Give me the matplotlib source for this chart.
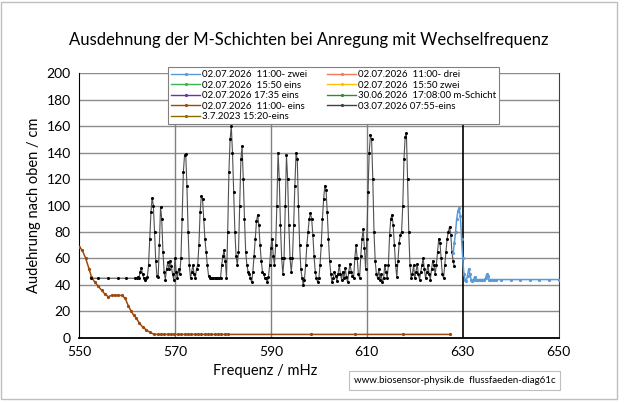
import numpy as np
import matplotlib
matplotlib.use("Agg")
import matplotlib.pyplot as plt
from matplotlib.patches import Rectangle

plt.rcParams['font.family'] = ['Lato', 'DejaVu Sans']

title = "Ausdehnung der M-Schichten bei Anregung mit Wechselfrequenz"
xlabel = "Frequenz / mHz"
ylabel = "Audehrung nach oben / cm"
source = "www.biosensor-physik.de  flussfaeden-diag61c"
xticks = [550, 570, 590, 610, 630, 650]
yticks = [0, 20, 40, 60, 80, 100, 120, 140, 160, 180, 200]

# 03.07.2026 07:55-eins (black) - sparse start
black_x0 = [552.6, 554.0, 556.0, 558.1, 559.9, 561.6]
black_y0 = [45, 45, 45, 45, 45, 45]
# dense part, step 0.25 mHz from 562.0
black_start = 562.0
black_step = 0.25
black_y = [
    45, 46, 45, 50,   53, 48, 45, 44,   45, 46, 55, 75,   95, 106, 100, 80,   # 562-565.75
    58, 47, 46, 70,   99, 90, 65, 50,   44, 52, 57, 52,   58, 54, 48, 44,     # 566-569.75
    60, 50, 45, 52,   48, 60, 90, 125,  138, 139, 115, 80, 55, 45, 50, 55,    # 570-573.75
    48, 45, 52, 55,   70, 95, 107, 105, 90, 75, 65, 55,   47, 45, 45, 45,     # 574-577.75
    45, 45, 45, 45,   45, 45, 45, 55,   62, 66, 58, 45,   80, 125, 150, 160,  # 578-581.75
    140, 110, 80, 62, 55, 65, 100, 135, 145, 120, 90, 65, 55, 50, 48, 45,     # 582-585.75
    42, 50, 62, 75,   88, 93, 85, 70,   58, 50, 48, 45,   45, 42, 46, 55,     # 586-589.75
    68, 75, 62, 55,   70, 100, 140, 120, 85, 60, 48, 60,  100, 138, 120, 85,  # 590-593.75
    60, 50, 60, 85,   115, 140, 135, 100, 70, 52, 45, 40, 44, 55, 70, 80,     # 594-597.75
    90, 94, 90, 78,   62, 50, 45, 42,   45, 55, 70, 90,   105, 115, 112, 95,  # 598-601.75
    75, 58, 48, 42,   45, 50, 47, 43,   48, 55, 48, 44,   50, 45, 53, 46,     # 602-605.75
    42, 50, 56, 50,   47, 45, 60, 70,   60, 48, 45, 62,   75, 82, 68, 52,     # 606-609.75
    75, 110, 140, 153, 150, 120, 80, 58, 48, 45, 52, 44,  48, 42, 45, 55,     # 610-613.75
    50, 45, 55, 78,   90, 93, 85, 70,   55, 46, 58, 72,   78, 80, 100, 135,   # 614-617.75
    152, 155, 120, 80, 55, 45, 48, 55,  45, 50, 56, 48,   44, 50, 55, 60,     # 618-621.75
    52, 45, 50, 55,   48, 44, 52, 58,   55, 48, 55, 65,   75, 72, 60, 48,     # 622-625.75
    45, 55, 65, 75,   80, 84, 78, 65,   58, 54,                               # 626-628.25
]

# 02.07.2026 11:00- zwei (blue)
blue_x = [628.0, 628.25, 628.5, 628.75, 629.0, 629.25, 629.5, 629.75, 630.0, 630.25,
          630.5, 630.75, 631.0, 631.25, 631.5, 631.75, 632.0, 632.25, 632.5, 632.75,
          633.0, 633.25, 633.5, 633.75, 634.0, 634.25, 634.5, 634.75, 635.0, 635.25,
          635.5, 635.75, 636.0, 636.5, 637.0, 638.0, 640.0, 642.0, 644.0, 646.0, 648.0, 650.0]
blue_y = [64, 72, 80, 90, 96, 98, 92, 75, 60, 48,
          44, 43, 47, 52, 48, 44, 43, 44, 46, 44,
          44, 44, 44, 44, 44, 44, 44, 45, 48, 47,
          44, 44, 44, 44, 44, 44, 44, 44, 44, 44, 44, 44]

# 02.07.2026 11:00- eins (brown)
brown_x = [550.0, 550.7, 551.4, 552.1, 552.6, 553.3, 554.0, 554.7, 555.4, 556.1,
           556.8, 557.5, 558.2, 558.9, 559.6, 560.3, 560.9, 561.4, 561.9, 562.6,
           563.3, 564.0, 564.8, 565.7, 566.4, 567.1, 567.8, 568.5, 569.2, 569.9,
           570.6, 571.3, 572.0, 572.7, 573.4, 574.1, 574.8, 575.5, 576.2, 576.9,
           577.6, 578.3, 579.0, 579.7, 580.4, 581.1, 598.4, 607.5, 617.5, 627.4]
brown_y = [69, 66, 60, 52, 46, 42, 39, 36, 33, 31,
           32, 32, 32, 32, 30, 24, 20, 17, 15, 11,
           8, 6, 4, 2.5, 2.5, 2.5, 2.5, 2.5, 2.5, 2.5,
           2.5, 2.5, 2.5, 2.5, 2.5, 2.5, 2.5, 2.5, 2.5, 2.5,
           2.5, 2.5, 2.5, 2.5, 2.5, 2.5, 2.5, 2.5, 2.5, 2.5]

legend_labels = [
    "02.07.2026  11:00- zwei", "02.07.2026  11:00- drei",
    "02.07.2026  15:50 eins", "02.07.2026  15:50 zwei",
    "02.07.2026 17:35 eins", "30.06.2026  17:08:00 m-Schicht",
    "02.07.2026  11:00- eins", "03.07.2026 07:55-eins",
    "3.7.2023 15:20-eins",
]
legend_colors = ['#5B9BD5', '#F4795B', '#3CB44B', '#FFC000', '#7030A0',
                 '#2E8B2E', '#9E480E', '#404040', '#8C6D00']

fig = plt.figure(figsize=(6.24, 4.03), dpi=100)
ax = fig.add_axes([0.1266, 0.162, 0.7687, 0.656])

bx = np.concatenate([black_x0, black_start + black_step * np.arange(len(black_y))])
by = np.concatenate([black_y0, black_y])

handles = {}
for lab, col in zip(legend_labels, legend_colors):
    handles[lab], = ax.plot([], [], color=col, lw=1, marker='o', ms=1.3)

ax.plot(brown_x, brown_y, color='#9E480E', lw=1.1, marker='o', ms=1.3, zorder=3)
ax.plot(bx, by, color='#505050', lw=0.8, marker='o', ms=1.2, mfc='black', mec='black', zorder=4)
ax.plot(blue_x, blue_y, color='#5B9BD5', lw=1.1, marker='o', ms=1.3, zorder=4)

ax.set_xlim(550, 650)
ax.set_ylim(0, 200)
ax.set_xticks(xticks)
ax.set_yticks(yticks)
ax.tick_params(length=0, labelsize=10, pad=6)
ax.yaxis.grid(True, color='#8C8C8C', lw=1)
for xv in xticks[1:4]:
    ax.axvline(xv, color='#808080', lw=1, zorder=1)
ax.axvline(630, color='black', lw=1.2, zorder=2)
ax.set_axisbelow(True)
ax.spines['top'].set_visible(False)
ax.spines['right'].set_color('#404040')
ax.spines['left'].set_color('black')
ax.spines['bottom'].set_color('black')
ax.spines['bottom'].set_linewidth(1.3)

ax.set_xlabel(xlabel, fontsize=10.5, labelpad=4)
ax.xaxis.set_label_coords(0.3875, -0.1)
ax.set_ylabel(ylabel, fontsize=10.5, labelpad=4)
fig.text(0.494, 0.9, title, ha='center', va='center', fontsize=12)

order = [legend_labels[i] for i in [0, 2, 4, 6, 8, 1, 3, 5, 7]]
leg = fig.legend([handles[l] for l in order], order, ncol=2,
                 loc='upper left', bbox_to_anchor=(0.262, 0.845),
                 fontsize=7, frameon=True, fancybox=False, edgecolor='#808080',
                 handlelength=3, handletextpad=0.2, columnspacing=2.0,
                 labelspacing=0.15, borderpad=0.3, framealpha=1)
leg.get_frame().set_linewidth(0.8)

fig.text(0.567, 0.055, source, fontsize=7, ha='left', va='center',
         bbox=dict(boxstyle='square,pad=0.5', fc='white', ec='#BFBFBF', lw=0.8))

fig.patches.append(Rectangle((0.002, 0.01), 0.986, 0.985, transform=fig.transFigure,
                             fill=False, ec='#BFBFBF', lw=1))

fig.savefig("out.png", dpi=100)
